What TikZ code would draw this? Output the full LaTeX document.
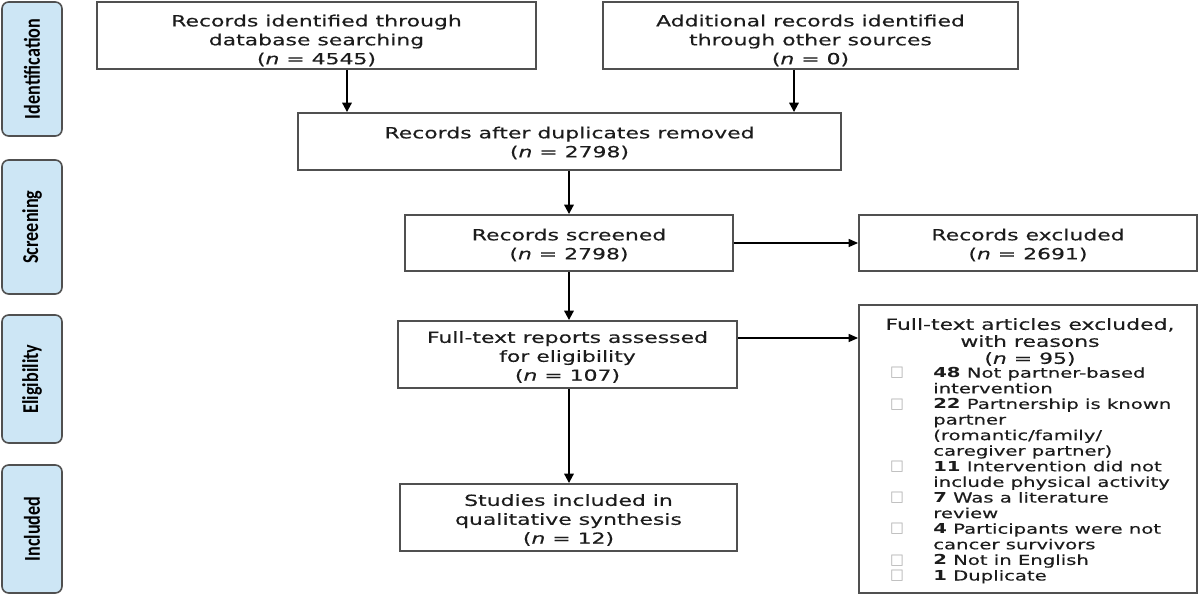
\documentclass[tikz,border=0pt]{standalone}
\usepackage{fontspec}
\setmainfont{DejaVu Sans}[FakeStretch=1.43, UprightFeatures={FakeBold=0.3}, ItalicFeatures={FakeBold=0.3}]
\newfontfamily\phasefont{Carlito}[FakeStretch=0.8, BoldFont={* Bold}]
\newfontfamily\boxglyph{DejaVu Sans}
\usetikzlibrary{arrows.meta}
\definecolor{phasefill}{HTML}{CDE6F5}
\definecolor{bordergray}{HTML}{505050}
\definecolor{txt}{HTML}{1C1C1C}
\tikzset{
  flowbox/.style={draw=bordergray, line width=1.4pt, rectangle, inner sep=0pt,
    align=center, text=txt, font=\fontsize{11.5}{14.2}\selectfont},
  phasebox/.style={draw=bordergray, line width=1.2pt, fill=phasefill, rounded corners=5pt,
    minimum width=60*0.75pt, inner sep=0pt},
  phasetext/.style={rotate=90, font=\phasefont\bfseries\fontsize{17}{18}\selectfont, text=black},
  vflow/.style={line width=1.5pt, -{Triangle[length=7pt,width=7pt]}},
  hflow/.style={line width=0.8pt, -{Triangle[length=7pt,width=6pt]}},
  chk/.style={text=gray!60, inner sep=0pt, font=\boxglyph\fontsize{11}{12}\selectfont},
}
\begin{document}
\begin{tikzpicture}[x=0.75pt,y=-0.75pt]
\useasboundingbox (0,0) rectangle (1200,595);
% phase boxes
\node[phasebox, minimum height=134*0.75pt] (pid) at (32,69) {};
\node[phasetext] (pidt) at (pid) {Identification};
\node[phasebox, minimum height=134*0.75pt] (psc) at (32,227) {};
\node[phasetext] (psct) at (psc) {Screening};
\node[phasebox, minimum height=128*0.75pt] (pel) at (32,379) {};
\node[phasetext] (pelt) at (pel) {Eligibility};
\node[phasebox, minimum height=128*0.75pt] (pin) at (32,529) {};
\node[phasetext] (pint) at (pin) {Included};
% flow boxes
\node[flowbox, minimum width=439*0.75pt, minimum height=67*0.75pt] (id1) at (316.5,35.5) {};
\node[flowbox, draw=none] (id1t) at (316.5,40.5)
  {Records identified through\\database searching\\(\textit{n} = 4545)};
\node[flowbox, minimum width=415*0.75pt, minimum height=67*0.75pt] (id2) at (810.5,35.5) {};
\node[flowbox, draw=none] (id2t) at (810.5,40.5)
  {Additional records identified\\through other sources\\(\textit{n} = 0)};
\node[flowbox, minimum width=543*0.75pt, minimum height=57*0.75pt] (dup) at (569.5,141.5) {};
\node[flowbox, draw=none] (dupt) at (569.5,143)
  {Records after duplicates removed\\(\textit{n} = 2798)};
\node[flowbox, minimum width=328*0.75pt, minimum height=56*0.75pt] (scr) at (569,243) {};
\node[flowbox, draw=none] (scrt) at (569,245)
  {Records screened\\(\textit{n} = 2798)};
\node[flowbox, minimum width=338*0.75pt, minimum height=56*0.75pt] (exc) at (1028,243) {};
\node[flowbox, draw=none] (exct) at (1028,245)
  {Records excluded\\(\textit{n} = 2691)};
\node[flowbox, minimum width=339*0.75pt, minimum height=67*0.75pt] (ft) at (567.5,354.5) {};
\node[flowbox, draw=none] (ftt) at (567.5,357)
  {Full-text reports assessed\\for eligibility\\(\textit{n} = 107)};
\node[flowbox, minimum width=337*0.75pt, minimum height=67*0.75pt] (stu) at (568.5,517.5) {};
\node[flowbox, draw=none] (stut) at (568.5,520)
  {Studies included in\\qualitative synthesis\\(\textit{n} = 12)};
\node[flowbox, minimum width=338*0.75pt, minimum height=288*0.75pt] (ftx) at (1028,449) {};
\node[inner sep=0pt, align=center, text=txt, font=\fontsize{11.5}{12.75}\selectfont] (ftxh) at (1030,342)
  {Full-text articles excluded,\\with reasons\\(\textit{n} = 95)};
% list
\node[inner sep=0pt, anchor=north west, align=left, text=txt, font=\fontsize{10.3}{11.7}\selectfont] (lst) at (933,367)
  {\textbf{48} Not partner-based\\
   intervention\\
   \textbf{22} Partnership is known\\
   partner\\
   (romantic/family/\\
   caregiver partner)\\
   \textbf{11} Intervention did not\\
   include physical activity\\
   \textbf{7} Was a literature\\
   review\\
   \textbf{4} Participants were not\\
   cancer survivors\\
   \textbf{2} Not in English\\
   \textbf{1} Duplicate};
\node[chk] (c1) at (897,373.0) {□};
\node[chk] (c2) at (897,404.2) {□};
\node[chk] (c3) at (897,466.6) {□};
\node[chk] (c4) at (897,497.8) {□};
\node[chk] (c5) at (897,529.0) {□};
\node[chk] (c6) at (897,560.2) {□};
\node[chk] (c7) at (897,575.8) {□};
% arrows
\draw[vflow] (id1.south -| 347,0) -- (dup.north -| 347,0);
\draw[vflow] (id2.south -| 794,0) -- (dup.north -| 794,0);
\draw[vflow] (dup.south -| 569,0) -- (scr.north -| 569,0);
\draw[vflow] (scr.south -| 569,0) -- (ft.north -| 569,0);
\draw[vflow] (ft.south -| 569,0) -- (stu.north -| 569,0);
\draw[hflow] (scr.east) -- (exc.west);
\draw[hflow] (ft.east |- 0,338) -- (ftx.west |- 0,338);
\end{tikzpicture}
\end{document}
